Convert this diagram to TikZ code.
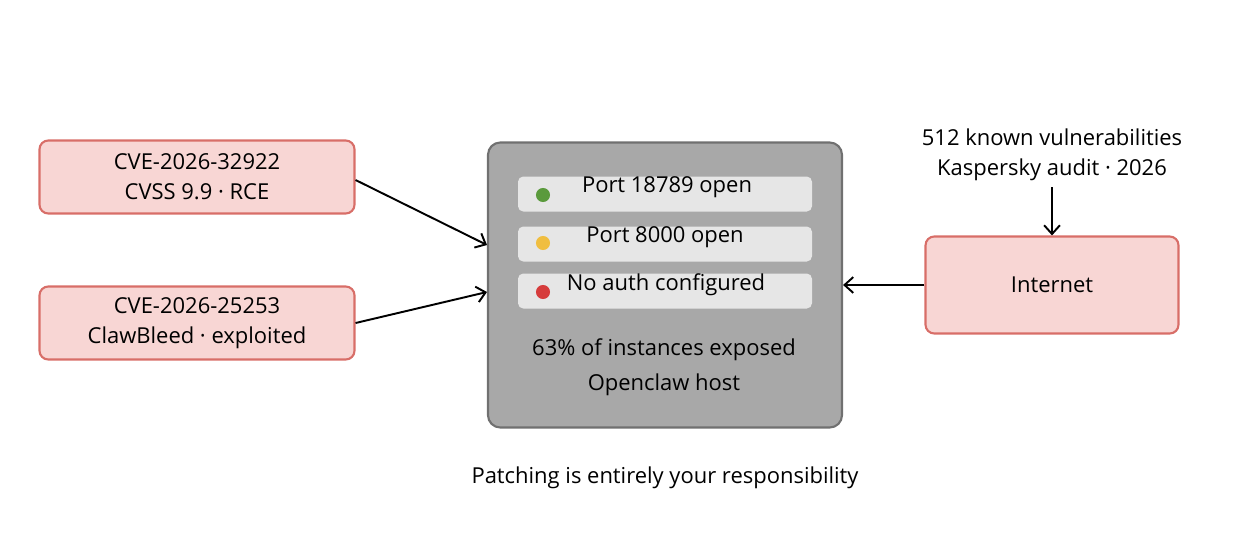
\documentclass[tikz,border=0pt]{standalone}
\usepackage{fontspec}
\setmainfont{Open Sans}
\usetikzlibrary{arrows.meta}
\definecolor{pinkf}{HTML}{F8D6D4}
\definecolor{pinkd}{HTML}{D86E68}
\definecolor{grayf}{HTML}{A8A8A8}
\definecolor{grayd}{HTML}{707070}
\definecolor{rowf}{HTML}{E6E6E6}
\begin{document}
\begin{tikzpicture}[x=0.02cm,y=-0.02cm,
  box/.style={draw=pinkd,fill=pinkf,line width=1.2pt,rounded corners=5pt,align=center,font=\fontsize{12.5}{17}\selectfont},
  row/.style={fill=rowf,rounded corners=3pt},
  txt/.style={font=\fontsize{12.5}{17}\selectfont,align=center},
  arr/.style={-{Straight Barb[length=5pt,width=9pt]},line width=1.1pt},
  dot/.style={circle,inner sep=0pt,minimum size=8pt}]
\useasboundingbox (0,0) rectangle (1239,538);
\node[box,minimum width=315*0.02cm,minimum height=73*0.02cm] (c1) at (197,177) {CVE-2026-32922\\CVSS 9.9 · RCE};
\node[box,minimum width=315*0.02cm,minimum height=73*0.02cm] (c2) at (197,323) {CVE-2026-25253\\ClawBleed · exploited};
\node[draw=grayd,fill=grayf,line width=1.2pt,rounded corners=7pt,minimum width=354*0.02cm,minimum height=285*0.02cm] (h) at (665,285) {};
\node[row,minimum width=294*0.02cm,minimum height=35*0.02cm] (r1) at (665,194) {};
\node[row,minimum width=294*0.02cm,minimum height=35*0.02cm] (r2) at (665,244) {};
\node[row,minimum width=294*0.02cm,minimum height=35*0.02cm] (r3) at (665,291) {};
\node[dot,fill={rgb,255:red,90;green,154;blue,60}] (d1) at (543,195) {};
\node[dot,fill={rgb,255:red,240;green,190;blue,64}] (d2) at (543,243) {};
\node[dot,fill={rgb,255:red,214;green,60;blue,60}] (d3) at (543,292) {};
\node[txt] (t1) at (667,187) {Port 18789 open};
\node[txt] (t2) at (665,237) {Port 8000 open};
\node[txt] (t3) at (666,285) {No auth configured};
\node[txt,font=\fontsize{12.5}{20}\selectfont] (t4) at (664,367) {63\% of instances exposed\\Openclaw host};
\node[box,minimum width=253*0.02cm,minimum height=97*0.02cm] (inet) at (1052,285) {Internet};
\node[txt] (k) at (1052,155) {512 known vulnerabilities\\Kaspersky audit · 2026};
\node[txt] (b) at (665,478) {Patching is entirely your responsibility};
\draw[arr] (c1.east) ++(0,3) -- (487,245);
\draw[arr] (c2.east) -- (487,292);
\draw[arr] (k.south) -- (inet.north);
\draw[arr] (inet.west) -- (h.east);
\end{tikzpicture}
\end{document}
